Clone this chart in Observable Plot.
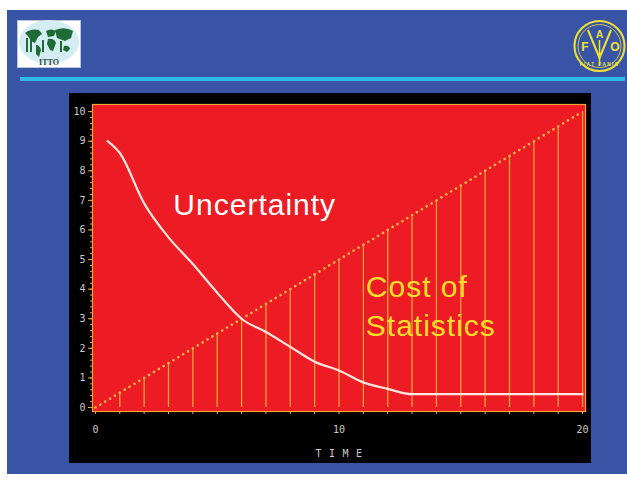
<!DOCTYPE html>
<html>
<head>
<meta charset="utf-8">
<script src="https://cdn.jsdelivr.net/npm/d3@7"></script>
<script src="https://cdn.jsdelivr.net/npm/@observablehq/plot@0.6"></script>
<style>
  html, body { margin: 0; padding: 0; background: #ffffff; }
  #page { position: relative; width: 627px; height: 481px; overflow: hidden; background: #ffffff; }
  #slide { position: absolute; left: 7px; top: 10px; width: 620px; height: 464px; background: #3a54a5; }
  #rule { position: absolute; left: 20px; top: 77px; width: 605px; height: 4px; background: #2fb9e9; }
  #box { position: absolute; left: 69px; top: 93px; width: 522px; height: 370px; background: #000000; }
  #logos { position: absolute; left: 0; top: 0; }
</style>
</head>
<body>
<div id="page">
  <div id="slide"></div>
  <div id="rule"></div>
  <svg id="logos" width="627" height="90">
    <rect x="17.5" y="20.5" width="63" height="47" fill="#ffffff" stroke="#b8c4dc" stroke-width="1"/>
    <ellipse cx="49" cy="42" rx="30" ry="22" fill="#d3edf2"/>
    <g fill="#1f6b35">
      <path d="M25 33 q6 -5 14 -3 l3 4 -4 3 -3 6 -4 -2 -3 -5 z"/>
      <path d="M36 45 q4 0 5 5 l-2 7 -3 -3 z"/>
      <path d="M46 31 q5 -3 10 0 l-2 5 -6 1 z"/>
      <path d="M48 39 q6 -1 8 4 l-3 8 -3 -1 -3 -6 z"/>
      <path d="M55 30 q10 -4 18 1 l-2 7 -6 3 -8 -3 z"/>
      <path d="M64 46 q5 -1 6 3 l-3 3 -4 -2 z"/>
      <rect x="26" y="38" width="2" height="14"/>
      <rect x="30" y="39" width="2" height="13"/>
      <rect x="42" y="40" width="2" height="12"/>
      <rect x="60" y="41" width="2" height="11"/>
    </g>
    <text x="49" y="65" text-anchor="middle" font-family="Liberation Serif" font-weight="bold" font-size="8" fill="#2d4a3b">ITTO</text>
    <g fill="none" stroke="#efe334">
      <circle cx="599.5" cy="46" r="25" stroke-width="2"/>
      <circle cx="599.5" cy="46" r="21.5" stroke-width="0.8"/>
      <path d="M588 30 L599.5 58 L611 30" stroke-width="2"/>
      <path d="M599.5 40 L599.5 66" stroke-width="1.5"/>
    </g>
    <g fill="#efe334" font-family="Liberation Sans" font-weight="bold" text-anchor="middle">
      <text x="585" y="51" font-size="12">F</text>
      <text x="599.5" y="38" font-size="10">A</text>
      <text x="615" y="51" font-size="12">O</text>
      <text x="599.5" y="66" font-size="4.5" letter-spacing="1.5">FIAT PANIS</text>
    </g>
  </svg>
  <div id="box"></div>
</div>
<script>
// ---- data ----
const uncertaintyTime  = [0.5, 1, 2, 3, 4, 5, 6, 7, 8, 9, 10, 11, 12, 13, 20];
const uncertaintyValue = [9.0, 8.6, 6.9, 5.75, 4.85, 3.88, 3.0, 2.55, 2.05, 1.55, 1.25, 0.85, 0.63, 0.45, 0.45];

const costTime  = [1, 2, 3, 4, 5, 6, 7, 8, 9, 10, 11, 12, 13, 14, 15, 16, 17, 18, 19, 20];
const costValue = [0.5, 1, 1.5, 2, 2.5, 3, 3.5, 4, 4.5, 5, 5.5, 6, 6.5, 7, 7.5, 8, 8.5, 9, 9.5, 10];

const diagonalTime  = [0, 20];
const diagonalValue = [0, 10];

const xTickLabels = [0, 10, 20];
const xTickMarks  = [0, 1, 2, 3, 4, 5, 6, 7, 8, 9, 10, 11, 12, 13, 14, 15, 16, 17, 18, 19, 20];
const yTickLabels = [0, 1, 2, 3, 4, 5, 6, 7, 8, 9, 10];

const labelText = ["Uncertainty", "Cost of", "Statistics"];
const labelTime = [3.2, 11.1, 11.1];
const labelY    = [6.49, 3.73, 2.43];
const labelKind = ["unc", "cost", "cost"];

const xTitle = "TIME";

// ---- tables ----
const unc = uncertaintyTime.map((t, i) => ({t, v: uncertaintyValue[i]}));
const cost = costTime.map((t, i) => ({t, v: costValue[i]}));
const diag = diagonalTime.map((t, i) => ({t, v: diagonalValue[i]}));
const labels = labelText.map((s, i) => ({s, t: labelTime[i], v: labelY[i], k: labelKind[i]}));
const yMinor = d3.range(0, 10.01, 0.2);

const RED = "#ed1c24", ORANGE = "#f3a23a", DOTS = "#f7b24a", WHITE = "#fbe6df", YELLOW = "#f7df2c", GREY = "#c9c9c9";

const chart = Plot.plot({
  width: 522,
  height: 370,
  marginLeft: 23,
  marginRight: 6,
  marginTop: 11,
  marginBottom: 52,
  x: {domain: [-0.12, 20.12]},
  y: {domain: [-0.135, 10.24]},
  style: {background: "transparent", color: GREY, fontFamily: "DejaVu Sans Mono", fontSize: "10px", overflow: "visible"},
  marks: [
    Plot.frame({fill: RED, stroke: ORANGE, strokeWidth: 1.2}),
    Plot.ruleX(cost, {x: "t", y1: 0, y2: "v", stroke: ORANGE, strokeWidth: 1.3}),
    Plot.line(diag, {x: "t", y: "v", stroke: DOTS, strokeWidth: 2.6, strokeDasharray: "0.1,5.6", strokeLinecap: "round"}),
    Plot.line(unc, {x: "t", y: "v", stroke: WHITE, strokeWidth: 2.2, curve: "monotone-x"}),
    Plot.text(labels, {x: "t", y: "v", text: "s", fill: d => d.k === "unc" ? "#ffffff" : YELLOW,
      fontSize: 30, fontFamily: "Liberation Sans", textAnchor: "start", lineAnchor: "bottom"}),
    Plot.axisY({ticks: yMinor, tickSize: 2, text: null, stroke: ORANGE, label: null}),
    Plot.axisY({ticks: yTickLabels, tickSize: 4, tickPadding: 3, stroke: ORANGE, fill: GREY, label: null}),
    Plot.axisX({ticks: xTickMarks, tickSize: 3, text: null, stroke: ORANGE, label: null}),
    Plot.axisX({ticks: xTickLabels, tickSize: 0, tickPadding: 14, fill: GREY, label: null}),
    Plot.text([xTitle], {frameAnchor: "bottom", dy: 42, lineAnchor: "middle", fill: GREY, fontSize: 10})
  ]
});
chart.style.position = "absolute";
chart.style.left = "0px";
chart.style.top = "0px";
d3.select(chart).selectAll("text").each(function() {
  const s = this.textContent;
  if (s === xTitle) d3.select(this).attr("letter-spacing", "7.5px").attr("dx", "3.5");
  if (labelText.includes(s)) d3.select(this).attr("letter-spacing", "1px");
});
document.getElementById("box").appendChild(chart);
</script>
</body>
</html>
